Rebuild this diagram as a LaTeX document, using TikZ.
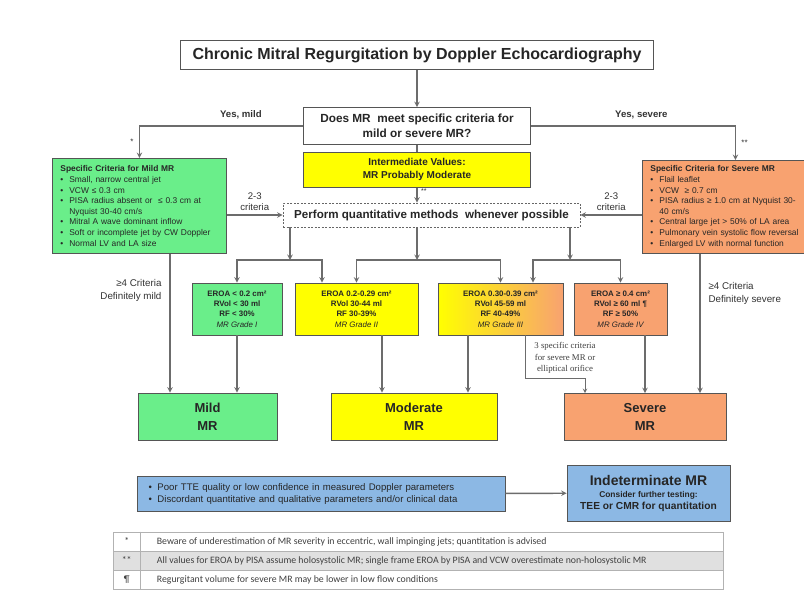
\documentclass[tikz,border=0pt]{standalone}
\usepackage{fontspec}
\setmainfont{Liberation Sans}
\newfontfamily\tablefont{Carlito}
\newfontfamily\notefont{Liberation Serif}
\usepackage{xcolor}
\usetikzlibrary{shapes.geometric, arrows, positioning, calc}

\definecolor{mildgreen}{RGB}{106,238,138}
\definecolor{modyellow}{RGB}{255,255,0}
\definecolor{sevorange}{RGB}{248,162,112}
\definecolor{indetblue}{RGB}{140,184,228}
\definecolor{linegray}{RGB}{108,108,108}
\definecolor{boxedge}{RGB}{85,85,85}

\newcommand{\critem}[1]{\makebox[9pt][l]{\textbullet}#1}
\newcommand{\critcont}[1]{\hspace*{9pt}#1}

\begin{document}
\begin{tikzpicture}[x=1pt, y=-1pt, node distance=7pt, >=stealth]
        \tikzstyle{box} = [rectangle, draw=boxedge, line width=0.8pt, text centered, inner sep=2pt, text=black!85]
        \tikzstyle{critbox} = [box, align=left, anchor=north west, inner xsep=8pt, font=\fontsize{8.4}{10.6}\selectfont]
        \tikzstyle{gradebox} = [box, align=center, minimum height=52pt, font=\bfseries\fontsize{7.9}{10.3}\selectfont]
        \tikzstyle{resultbox} = [box, align=center, minimum height=47pt, font=\bfseries\fontsize{13}{18}\selectfont]
        \tikzstyle{arrow} = [line width=1.4pt, draw=linegray, ->, >=stealth]
        \tikzstyle{line} = [line width=1.4pt, draw=linegray]
        \tikzstyle{lbl} = [font=\bfseries\fontsize{9.6}{11}\selectfont, text=black!80, align=center]
        \tikzstyle{sidenote} = [font=\fontsize{9.8}{13}\selectfont, text=black!80]
        \tikzstyle{tablerow} = [rectangle, draw=black!30, line width=0.6pt, minimum width=610pt, minimum height=19pt, inner sep=0pt]
        \tikzstyle{tabletext} = [font=\tablefont\fontsize{9.8}{11}\selectfont, text=black!75, inner sep=0pt]

        \useasboundingbox (0,0) rectangle (804,590);
        \clip (0,0) rectangle (804,590);
        \fill [white] (0,0) rectangle (804,590);

        % Title
        \node (title) [box, line width=1pt, minimum width=473pt, minimum height=29pt, font=\bfseries\fontsize{16}{18}\selectfont] at (417,55) {Chronic Mitral Regurgitation by Doppler Echocardiography};

        % Question and intermediate values
        \node (question) [box, align=center, minimum width=227pt, minimum height=37pt, font=\bfseries\fontsize{11.8}{15}\selectfont] at (417,126) {Does MR\ \ meet specific criteria for\\mild or severe MR?};
        \node (intermed) [box, fill=modyellow, below=7pt of question, align=center, minimum width=227pt, minimum height=35pt, font=\bfseries\fontsize{10}{13}\selectfont] {Intermediate Values:\\MR Probably Moderate};

        % Quantitative methods
        \node (perform) [box, draw=black!60, dash pattern=on 2pt off 1.5pt, minimum width=297pt, minimum height=24pt, font=\bfseries\fontsize{11.6}{13}\selectfont] at (431.5,215) {Perform quantitative methods\ \ whenever possible};

        % Specific criteria
        \node (mildcrit) [critbox, fill=mildgreen, minimum width=174pt, minimum height=95pt, text width=158pt] at (52,158) {%
            \textbf{Specific Criteria for Mild MR}\\
            \critem{Small, narrow central jet}\\
            \critem{VCW ≤ 0.3 cm}\\
            \critem{PISA radius absent or\ \ ≤ 0.3 cm at}\\
            \critcont{Nyquist 30-40 cm/s}\\
            \critem{Mitral A wave dominant inflow}\\
            \critem{Soft or incomplete jet by CW Doppler}\\
            \critem{Normal LV and LA size}};
        \node (severecrit) [critbox, fill=sevorange, minimum width=176pt, minimum height=93pt, text width=170pt] at (642,160) {%
            \textbf{Specific Criteria for Severe MR}\\
            \critem{Flail leaflet}\\
            \critem{VCW\ \ ≥ 0.7 cm}\\
            \critem{PISA radius ≥ 1.0 cm at Nyquist 30-}\\
            \critcont{40 cm/s}\\
            \critem{Central large jet > 50\% of LA area}\\
            \critem{Pulmonary vein systolic flow reversal}\\
            \critem{Enlarged LV with normal function}};

        % Grades
        \node (gradeI) [gradebox, fill=mildgreen, minimum width=90pt] at (237,309) {EROA < 0.2 cm²\\RVol < 30 ml\\RF < 30\%\\\mdseries\itshape MR Grade I};
        \node (gradeII) [gradebox, fill=modyellow, minimum width=123pt] at (356.5,309) {EROA 0.2-0.29 cm²\\RVol 30-44 ml\\RF 30-39\%\\\mdseries\itshape MR Grade II};
        \node (gradeIII) [gradebox, left color=modyellow, right color=sevorange, minimum width=125pt] at (500.5,309) {EROA 0.30-0.39 cm²\\RVol 45-59 ml\\RF 40-49\%\\\mdseries\itshape MR Grade III};
        \node (gradeIV) [gradebox, fill=sevorange, minimum width=93pt] at (620.5,309) {EROA ≥ 0.4 cm²\\RVol ≥ 60 ml ¶\\RF ≥ 50\%\\\mdseries\itshape MR Grade IV};

        % Results
        \node (mild) [resultbox, fill=mildgreen, minimum width=139pt] at (207.5,416.5) {Mild\\MR};
        \node (moderate) [resultbox, fill=modyellow, minimum width=166pt] at (414,416.5) {Moderate\\MR};
        \node (severe) [resultbox, fill=sevorange, minimum width=162pt] at (645,417) {Severe\\MR};

        % Indeterminate
        \node (quality) [box, fill=indetblue, align=left, minimum width=368pt, minimum height=35pt, text width=345pt, font=\fontsize{9.6}{12.5}\selectfont] at (321,494) {\critem{Poor TTE quality or low confidence in measured Doppler parameters}\\\critem{Discordant quantitative and qualitative parameters and/or clinical data}};
        \node (indet) [box, fill=indetblue, align=center, minimum width=163pt, minimum height=56pt, font=\bfseries\fontsize{10.2}{12}\selectfont] at (648.5,493) {{\fontsize{14}{16}\selectfont Indeterminate MR}\\{\fontsize{8.4}{11}\selectfont Consider further testing:}\\TEE or CMR for quantitation};

        % Side notes
        \node (mildnote) [sidenote, align=right, anchor=east] at (165,290) {≥4 Criteria\\Definitely mild};
        \node (severenote) [sidenote, align=left, anchor=west] at (705,293) {≥4 Criteria\\Definitely severe};
        \node (orificenote) [font=\notefont\fontsize{8.8}{11.5}\selectfont, text=black!75, align=center] at (565,358) {3 specific criteria\\for severe MR or\\elliptical orifice};

        % Footnote table
        \node (rowA) [tablerow, fill=white] at (418,541.5) {};
        \node (rowB) [tablerow, fill=black!12] at (418,560.5) {};
        \node (rowC) [tablerow, fill=white] at (418,579.5) {};
        \draw [draw=black!30, line width=0.6pt] (rowA.north west) ++(28,0) -- ($(rowC.south west)+(28,0)$);
        \node (markA) [tabletext] at ($(rowA.west)+(14,0)$) {*};
        \node (markB) [tabletext] at ($(rowB.west)+(14,0)$) {**};
        \node (markC) [tabletext] at ($(rowC.west)+(14,0)$) {¶};
        \node (noteA) [tabletext, anchor=west] at ($(rowA.west)+(44,0)$) {Beware of underestimation of MR severity in eccentric, wall impinging jets; quantitation is advised};
        \node (noteB) [tabletext, anchor=west] at ($(rowB.west)+(44,0)$) {All values for EROA by PISA assume holosystolic MR; single frame EROA by PISA and VCW overestimate non-holosystolic MR};
        \node (noteC) [tabletext, anchor=west] at ($(rowC.west)+(44,0)$) {Regurgitant volume for severe MR may be lower in low flow conditions};

        % Split points
        \coordinate (splitA) at (290,260);
        \coordinate (splitB) at (417,260);
        \coordinate (splitC) at (570,260);
        \coordinate (inII) at (322,0);
        \coordinate (inIII) at (533,0);
        \coordinate (mildleg) at (170,0);
        \coordinate (modlegA) at (382,0);
        \coordinate (modlegB) at (468,0);
        \coordinate (bendA) at (525,378);
        \coordinate (bendB) at (585,0);
        \coordinate (sevlegA) at (645,0);
        \coordinate (sevlegB) at (700,0);

        % Arrows
        \draw [arrow] (title) -- (question);
        \draw [line] (question) -- (intermed);
        \draw [arrow] (intermed.south) -- node[lbl, right, pos=0.25, font=\fontsize{7}{8}\selectfont] {**} (intermed.south |- perform.north);
        \draw [arrow] (question.west) -| node[lbl, pos=0.19, above, yshift=3pt] {Yes, mild} node[lbl, pos=0.74, left, xshift=-2pt, font=\fontsize{8}{9}\selectfont] {*} (mildcrit.north);
        \draw [arrow] (question.east) -| node[lbl, pos=0.27, above, yshift=3pt] {Yes, severe} node[lbl, pos=0.74, right, xshift=2pt, font=\fontsize{8}{9}\selectfont] {**} (severecrit.north);
        \draw [arrow] (perform.west -| mildcrit.east) -- node[lbl, above, font=\fontsize{9.6}{11}\selectfont] {2-3\\criteria} (perform.west);
        \draw [arrow] (perform.east -| severecrit.west) -- node[lbl, above, font=\fontsize{9.6}{11}\selectfont] {2-3\\criteria} (perform.east);
        \draw [arrow] (perform.south -| splitA) -- (splitA);
        \draw [arrow] (perform.south -| splitB) -- (splitB);
        \draw [arrow] (perform.south -| splitC) -- (splitC);
        \draw [arrow] (splitA) -| (gradeI.north);
        \draw [arrow] (splitA) -| (gradeII.north -| inII);
        \draw [arrow] (splitB) -| (gradeII.north);
        \draw [arrow] (splitB) -| (gradeIII.north);
        \draw [arrow] (splitC) -| (gradeIII.north -| inIII);
        \draw [arrow] (splitC) -| (gradeIV.north);
        \draw [arrow] (mildcrit.south -| mildleg) -- (mild.north -| mildleg);
        \draw [arrow] (gradeI.south) -- (gradeI.south |- mild.north);
        \draw [arrow] (gradeII.south -| modlegA) -- (moderate.north -| modlegA);
        \draw [arrow] (gradeIII.south -| modlegB) -- (moderate.north -| modlegB);
        \draw [arrow, line width=1pt] (gradeIII.south -| bendA) -- (bendA) -| (severe.north -| bendB);
        \draw [arrow] (gradeIV.south -| sevlegA) -- (severe.north -| sevlegA);
        \draw [arrow] (severecrit.south -| sevlegB) -- (severe.north -| sevlegB);
        \draw [arrow] (quality) -- (indet);
\end{tikzpicture}
\end{document}
